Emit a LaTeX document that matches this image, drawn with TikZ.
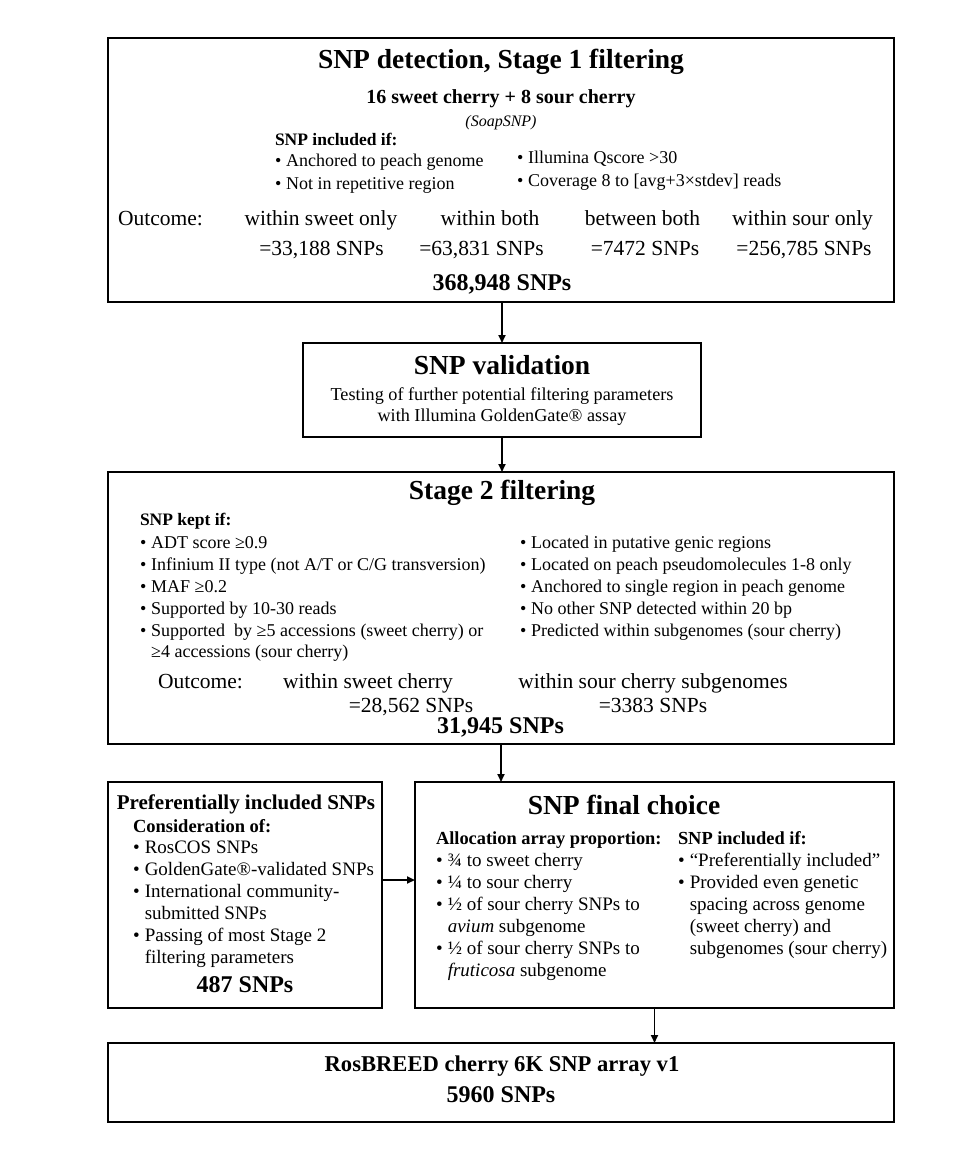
\documentclass[tikz,border=0pt]{standalone}
\usepackage{fontspec}
\setmainfont{Liberation Serif}
\usetikzlibrary{arrows.meta}
\newcommand\bul{\makebox[0.62em][l]{•}}
\newcommand\ind{\hspace*{0.62em}}
\newcommand\fsz[1]{\fontsize{#1}{#1}\selectfont}
\begin{document}
\begin{tikzpicture}[x=1pt,y=-1pt,
  box/.style 2 args={draw, line width=2.6pt, minimum width=#1pt, minimum height=#2pt, inner sep=0pt, outer sep=0pt},
  arr/.style={line width=1.8pt, -{Triangle[length=8pt,width=7pt]}},
  tx/.style={inner sep=0pt, outer sep=0pt, anchor=base west},
  tc/.style={inner sep=0pt, outer sep=0pt, anchor=base},
  bigtitle/.style={tc, font=\fsz{27.5}\bfseries},
  num/.style={tc, font=\fsz{24}\bfseries},
  head/.style={tx, font=\fsz{17.5}\bfseries},
  item/.style={tx, font=\fsz{18}},
  itemb/.style={tx, font=\fsz{19}},
  outc/.style={tc, font=\fsz{21.5}},
]
\useasboundingbox (0,0) rectangle (980,1168);
% boxes
\node[box={786}{264}] (b1) at (501,170) {};
\node[box={398}{94}] (b2) at (502,390) {};
\node[box={786}{272}] (b3) at (501,608) {};
\node[box={274}{226}] (b4a) at (245,895) {};
\node[box={479}{226}] (b4b) at (654.5,895) {};
\node[box={786}{79}] (b5) at (501,1082.5) {};
% arrows
\draw[arr] (b2.north |- b1.south) -- (b2.north);
\draw[arr] (b2.south) -- (b2.south |- b3.north);
\draw[arr] (b3.south) -- (b3.south |- b4b.north);
\draw[arr] ([yshift=15pt]b4a.east) -- ([yshift=15pt]b4a.east -| b4b.west);
\draw[arr] (b4b.south) -- (b4b.south |- b5.north);
% box 1
\node[bigtitle] (t1) at (501,68) {SNP detection, Stage 1 filtering};
\node[tc, font=\fsz{20}\bfseries] (t1b) at (501,103) {16 sweet cherry + 8 sour cherry};
\node[tc, font=\fsz{16}\itshape] (t1c) at (501,126) {(SoapSNP)};
\node[head] (h1) at (275,145) {SNP included if:};
\node[item] (i1a) at (275,166) {\bul Anchored to peach genome};
\node[item] (i1b) at (275,189) {\bul Not in repetitive region};
\node[item] (i1c) at (517,163) {\bul Illumina Qscore >30};
\node[item] (i1d) at (517,186) {\bul Coverage 8 to [avg+3×stdev] reads};
\node[tx, font=\fsz{21.5}] (o1) at (118,225) {Outcome:};
\node[outc] (o1a) at (321,225) {within sweet only};
\node[outc] (o1b) at (490,225) {within both};
\node[outc] (o1c) at (642.5,225) {between both};
\node[outc] (o1d) at (802.5,225) {within sour only};
\node[outc] (n1a) at (321.5,255) {=33,188 SNPs};
\node[outc] (n1b) at (481.5,255) {=63,831 SNPs};
\node[outc] (n1c) at (645,255) {=7472 SNPs};
\node[outc] (n1d) at (804,255) {=256,785 SNPs};
\node[num] (s1) at (502,290) {368,948 SNPs};
% box 2
\node[bigtitle] (t2) at (502,374) {SNP validation};
\node[tc, font=\fsz{18.2}] (t2a) at (502,400.5) {Testing of further potential filtering parameters};
\node[tc, font=\fsz{18.2}] (t2b) at (502,421.5) {with Illumina GoldenGate® assay};
% box 3
\node[bigtitle] (t3) at (502,499) {Stage 2 filtering};
\node[head] (h3) at (140,525) {SNP kept if:};
\node[item] (l3a) at (140,548) {\bul ADT score ≥0.9};
\node[item] (l3b) at (140,570) {\bul Infinium II type (not A/T or C/G transversion)};
\node[item] (l3c) at (140,592) {\bul MAF ≥0.2};
\node[item] (l3d) at (140,614) {\bul Supported by 10-30 reads};
\node[item] (l3e) at (140,636) {\bul Supported\ \ by ≥5 accessions (sweet cherry) or};
\node[item] (l3f) at (140,657) {\ind ≥4 accessions (sour cherry)};
\node[item] (r3a) at (520,548) {\bul Located in putative genic regions};
\node[item] (r3b) at (520,570) {\bul Located on peach pseudomolecules 1-8 only};
\node[item] (r3c) at (520,592) {\bul Anchored to single region in peach genome};
\node[item] (r3d) at (520,614) {\bul No other SNP detected within 20 bp};
\node[item] (r3e) at (520,636) {\bul Predicted within subgenomes (sour cherry)};
\node[tx, font=\fsz{21.5}] (o3) at (158,688) {Outcome:};
\node[outc] (o3a) at (368,688) {within sweet cherry};
\node[outc] (o3b) at (653,688) {within sour cherry subgenomes};
\node[outc] (n3a) at (411,712) {=28,562 SNPs};
\node[outc] (n3b) at (653,712) {=3383 SNPs};
\node[num] (s3) at (500.5,733) {31,945 SNPs};
% box 4a
\node[tc, font=\fsz{21}\bfseries] (t4a) at (246,809) {Preferentially included SNPs};
\node[tx, font=\fsz{18.5}\bfseries] (h4a) at (133,832) {Consideration of:};
\node[itemb] (p1) at (133,853) {\bul RosCOS SNPs};
\node[itemb] (p2) at (133,875) {\bul GoldenGate®-validated SNPs};
\node[itemb] (p3) at (133,897) {\bul International community-};
\node[itemb] (p4) at (133,919) {\ind submitted SNPs};
\node[itemb] (p5) at (133,941) {\bul Passing of most Stage 2};
\node[itemb] (p6) at (133,963) {\ind filtering parameters};
\node[num] (s4a) at (245,992) {487 SNPs};
% box 4b
\node[bigtitle] (t4b) at (624,814) {SNP final choice};
\node[tx, font=\fsz{18.4}\bfseries] (h4b) at (436,844) {Allocation array proportion:};
\node[tx, font=\fsz{18.4}\bfseries] (h4c) at (678,844) {SNP included if:};
\node[itemb] (q1) at (436,866) {\bul ¾ to sweet cherry};
\node[itemb] (q2) at (436,888) {\bul ¼ to sour cherry};
\node[itemb] (q3) at (436,910) {\bul ½ of sour cherry SNPs to};
\node[itemb] (q4) at (436,932) {\ind \textit{avium} subgenome};
\node[itemb] (q5) at (436,954) {\bul ½ of sour cherry SNPs to};
\node[itemb] (q6) at (436,976) {\ind \textit{fruticosa} subgenome};
\node[itemb] (u1) at (678,866) {\bul “Preferentially included”};
\node[itemb] (u2) at (678,888) {\bul Provided even genetic};
\node[itemb] (u3) at (678,910) {\ind spacing across genome};
\node[itemb] (u4) at (678,932) {\ind (sweet cherry) and};
\node[itemb] (u5) at (678,954) {\ind subgenomes (sour cherry)};
% box 5
\node[tc, font=\fsz{22.6}\bfseries] (t5) at (502,1071) {RosBREED cherry 6K SNP array v1};
\node[num] (s5) at (501,1102) {5960 SNPs};
\end{tikzpicture}
\end{document}
